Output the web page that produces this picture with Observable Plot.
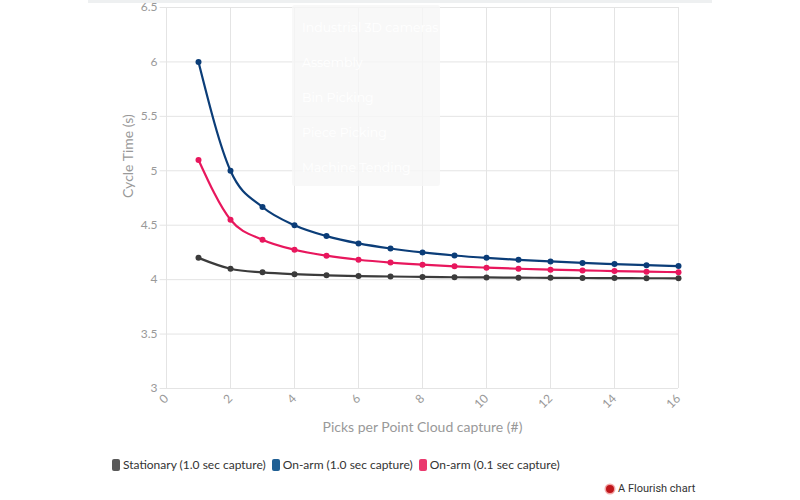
<!DOCTYPE html>
<html><head><meta charset="utf-8">
<script src="https://cdn.jsdelivr.net/npm/d3@7"></script>
<script src="https://cdn.jsdelivr.net/npm/@observablehq/plot@0.6"></script>
<style>
body{margin:0;background:#fff;font-family:"Source Sans Pro",Lato,"Open Sans",sans-serif;}
#wrap{position:relative;width:800px;height:500px;overflow:hidden;}
#topbar{position:absolute;left:88px;top:0;width:624px;height:3px;background:#eef0f1;}
#overlay{position:absolute;left:292px;top:5px;width:148px;height:181px;background:rgba(246,246,246,0.82);border-radius:3px;}
#overlay div{position:absolute;left:10px;color:#fff;font-family:Montserrat,"Open Sans",sans-serif;font-size:12.5px;white-space:nowrap;}
#legend{position:absolute;left:112px;top:457px;font-size:12px;color:#333;display:flex;gap:6px;font-family:Lato,"Open Sans",sans-serif;}
#legend span.sw{display:inline-block;width:8px;height:12px;border-radius:2px;margin-right:3px;vertical-align:-2px;}
#credit{position:absolute;left:606px;top:482px;font-size:11px;color:#333;font-family:Roboto,sans-serif;}
#credit .dot{display:inline-block;width:8px;height:8px;border-radius:50%;background:#c0161b;margin-right:4px;vertical-align:-1px;box-shadow:0 0 0 1.5px #f2a8a8;}
</style></head>
<body><div id="wrap"><div id="topbar"></div><div id="chart"></div><div id="overlay"></div><div id="legend"></div><div id="credit"><span class="dot"></span>A Flourish chart</div></div>
<script>
const picks = [1,2,3,4,5,6,7,8,9,10,11,12,13,14,15,16];
const stationary = [4.2,4.1,4.067,4.05,4.04,4.033,4.029,4.025,4.022,4.02,4.018,4.017,4.015,4.014,4.013,4.0125];
const onArm10 = [6.0,5.0,4.667,4.5,4.4,4.333,4.286,4.25,4.222,4.2,4.182,4.167,4.154,4.143,4.133,4.125];
const onArm01 = [5.1,4.55,4.367,4.275,4.22,4.183,4.157,4.1375,4.122,4.11,4.1,4.092,4.085,4.079,4.073,4.069];
const seriesNames = ["Stationary (1.0 sec capture)","On-arm (1.0 sec capture)","On-arm (0.1 sec capture)"];
const lineColors = ["#3b3b3b","#0b3d78","#e8175d"];
const swatchColors = ["#5a5a5a","#1f5f94","#ea3a6e"];
const xTicks = [0,2,4,6,8,10,12,14,16];
const yTicks = [3,3.5,4,4.5,5,5.5,6,6.5];
const overlayLabels = ["Industrial 3D cameras","Assembly","Bin Picking","Piece Picking","Machine Tending"];

const values = [stationary, onArm10, onArm01];
const data = [];
values.forEach((vals,i)=>vals.forEach((v,j)=>data.push({series:seriesNames[i],x:picks[j],y:v})));

const plot = Plot.plot({
  width:800, height:445,
  marginLeft:166, marginRight:122, marginTop:7, marginBottom:57,
  style:{fontFamily:'"Source Sans Pro",Lato,"Open Sans",sans-serif',fontSize:"12px",color:"#999",background:"transparent"},
  x:{domain:[0,16],ticks:xTicks,label:null},
  y:{domain:[3,6.5],ticks:yTicks,label:null},
  color:{domain:seriesNames,range:lineColors},
  marks:[
    Plot.gridX(xTicks,{stroke:"#e4e4e4",strokeOpacity:1}),
    Plot.gridY(yTicks,{stroke:"#e4e4e4",strokeOpacity:1,x1:-0.2,x2:16}),
    Plot.axisX({ticks:xTicks,tickRotate:-45,tickSize:0,tickPadding:8,fill:"#999",fontSize:12,label:null}),
    Plot.axisY({ticks:yTicks,tickFormat:d=>String(d),tickSize:0,tickPadding:9,fill:"#999",fontSize:12,label:null}),
    Plot.text(["Picks per Point Cloud capture (#)"],{frameAnchor:"bottom",dy:43,fill:"#999",fontSize:14}),
    Plot.text(["Cycle Time (s)"],{frameAnchor:"left",dx:-38,rotate:-90,fill:"#999",fontSize:14}),
    Plot.line(data,{x:"x",y:"y",z:"series",stroke:"series",strokeWidth:2.2,curve:"monotone-x"}),
    Plot.dot(data,{x:"x",y:"y",fill:"series",r:3})
  ]
});
document.getElementById("chart").appendChild(plot);

const ov = document.getElementById("overlay");
overlayLabels.forEach((t,i)=>{const d=document.createElement("div");d.textContent=t;d.style.top=(15+i*35)+"px";ov.appendChild(d);});
const lg = document.getElementById("legend");
seriesNames.forEach((n,i)=>{const s=document.createElement("span");s.innerHTML='<span class="sw" style="background:'+swatchColors[i]+'"></span>'+n;lg.appendChild(s);});
</script></body></html>
